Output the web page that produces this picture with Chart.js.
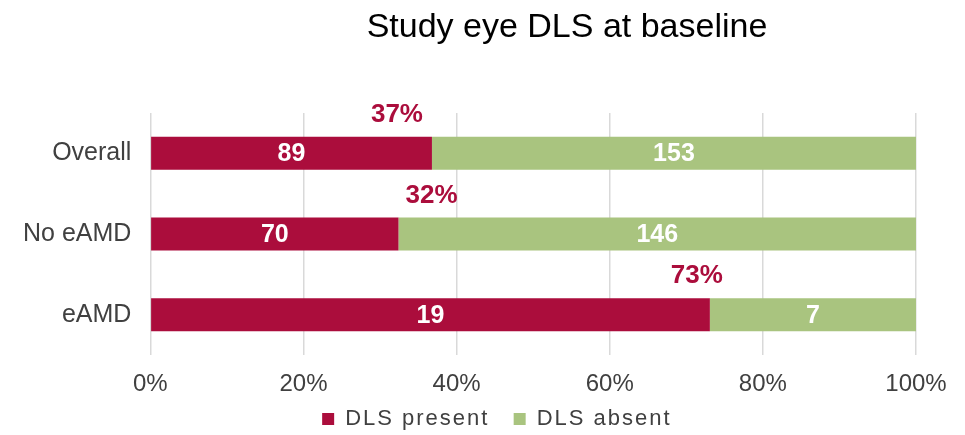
<!DOCTYPE html>
<html>
<head>
<meta charset="utf-8">
<script src="https://cdn.jsdelivr.net/npm/chart.js@4.4.1/dist/chart.umd.min.js"></script>
<style>
  html, body { margin: 0; padding: 0; background: #fff; }
  #wrap { width: 965px; height: 435px; }
</style>
</head>
<body>
<div id="wrap"><canvas id="dls_chart" width="965" height="435"></canvas></div>
<script>
// data
const groups = ["Overall", "No eAMD", "eAMD"];
const presentCounts = [89, 70, 19];
const absentCounts = [153, 146, 7];
const seriesNames = ["DLS present", "DLS absent"];
const xTicks = [0, 20, 40, 60, 80, 100];

// percentage of each bar (100% stacked)
const totals = presentCounts.map((v, i) => v + absentCounts[i]);
const presentPct = presentCounts.map((v, i) => v / totals[i] * 100);
const absentPct = absentCounts.map((v, i) => v / totals[i] * 100);

const RED = "#ab0d3c";
const GREEN = "#a9c47f";
const FONT = "'Liberation Sans', Arial, sans-serif";

// counts inside the bars, % above the red segment
const barLabels = {
  id: "barLabels",
  afterDatasetsDraw(chart) {
    const ctx = chart.ctx;
    ctx.save();
    ctx.textAlign = "center";
    ctx.textBaseline = "middle";
    const counts = [presentCounts, absentCounts];
    chart.data.datasets.forEach((ds, di) => {
      chart.getDatasetMeta(di).data.forEach((bar, i) => {
        ctx.fillStyle = "#fff";
        ctx.font = "bold 25px " + FONT;
        const mid = (bar.x + bar.base) / 2;
        ctx.fillText(counts[di][i], mid, bar.y + 1);
      });
    });
    // percent labels (shifted a bit like the original)
    const shift = [-35, 33, -13];
    chart.getDatasetMeta(0).data.forEach((bar, i) => {
      ctx.fillStyle = RED;
      ctx.font = "bold 26px " + FONT;
      ctx.fillText(Math.round(presentPct[i]) + "%", bar.x + shift[i], bar.y - bar.height / 2 - 22);
    });
    ctx.restore();
  },
  afterDraw(chart) {
    const ctx = chart.ctx;
    ctx.save();
    ctx.fillStyle = "#000";
    ctx.font = "34px " + FONT;
    ctx.textAlign = "center";
    ctx.textBaseline = "middle";
    ctx.fillText("Study eye DLS at baseline", 567, 28);
    ctx.restore();
  }
};

const chart = new Chart(document.querySelector("#dls_chart").getContext("2d"), {
  type: "bar",
  data: {
    labels: groups,
    datasets: [
      { label: seriesNames[0], data: presentPct, backgroundColor: RED },
      { label: seriesNames[1], data: absentPct, backgroundColor: GREEN },
    ],
  },
  options: {
    indexAxis: "y",
    responsive: false,
    animation: false,
    layout: { padding: { top: 113, right: 49, bottom: 0, left: 12 } },
    datasets: { bar: { barPercentage: 0.41, categoryPercentage: 1 } },
    scales: {
      x: {
        stacked: true,
        min: 0,
        max: 100,
        afterBuildTicks(axis) { axis.ticks = xTicks.map(v => ({ value: v })); },
        afterFit(axis) { axis.height = 45; },
        grid: { color: "#d9d9d9", lineWidth: 1.5, drawTicks: false },
        border: { display: false },
        ticks: {
          color: "#404040",
          padding: 15,
          font: { family: FONT, size: 24 },
          callback: v => v + "%",
        },
      },
      y: {
        stacked: true,
        grid: { display: false },
        border: { display: false },
        ticks: {
          color: "#404040",
          padding: 11,
          font: { family: FONT, size: 25 },
        },
      },
    },
    plugins: {
      legend: {
        position: "bottom",
        labels: {
          boxWidth: 12,
          boxHeight: 12,
          padding: 8,
          color: "#404040",
          font: { family: FONT, size: 22 },
          generateLabels(ch) {
            const items = Chart.defaults.plugins.legend.labels.generateLabels(ch);
            items.forEach(it => { it.text = it.text + "  "; });
            return items;
          },
        },
      },
      tooltip: { enabled: false },
    },
  },
  plugins: [barLabels],
});

// the legend text in the original is spaced out a little
const lg = chart.legend;
const fitLegend = lg.fit.bind(lg);
const drawLegend = lg.draw.bind(lg);
lg.fit = function () {
  chart.ctx.save(); chart.ctx.letterSpacing = "2px"; fitLegend(); chart.ctx.restore();
  lg.height = 35;
};
lg.draw = function () {
  chart.ctx.save();
  chart.ctx.letterSpacing = "2px";
  chart.ctx.translate(41, 0);
  drawLegend();
  chart.ctx.restore();
};
chart.update();
</script>
</body>
</html>
